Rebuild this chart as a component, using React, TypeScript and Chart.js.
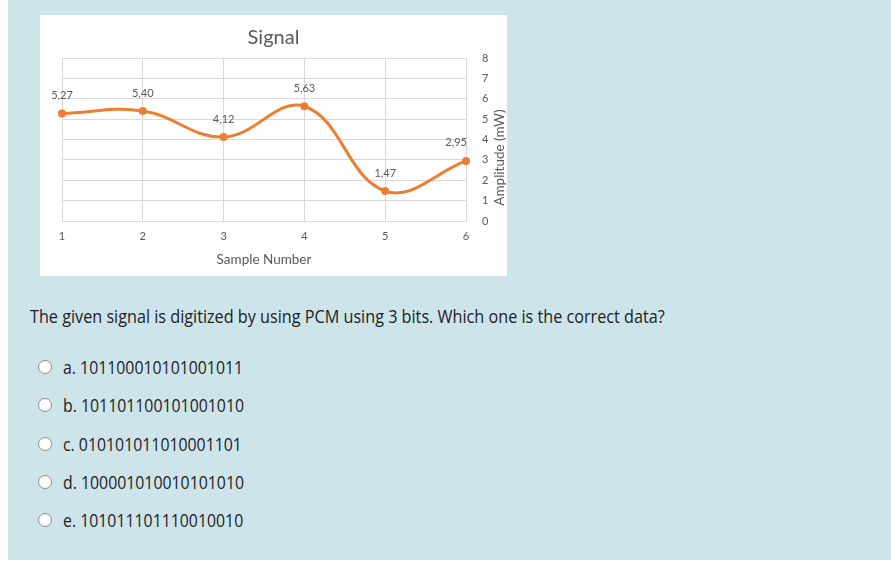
import React, { useEffect, useRef } from 'react';
import { Chart, registerables } from 'chart.js';

Chart.register(...registerables);

// sample numbers on the x axis
const samples = ['1', '2', '3', '4', '5', '6'];
// amplitude in mW
const amplitude = [5.27, 5.4, 4.12, 5.63, 1.47, 2.95];
const yTicks = [0, 1, 2, 3, 4, 5, 6, 7, 8];

const question = 'The given signal is digitized by using PCM using 3 bits. Which one is the correct data?';
const choices = [
  'a. 101100010101001011',
  'b. 101101100101001010',
  'c. 010101011010001101',
  'd. 100001010010101010',
  'e. 101011101110010010',
];

const TEXT = '#595959';
const ORANGE = '#ED7D31';
const FONT = 'Lato, "Open Sans", sans-serif';

// draws the value over each point (comma decimal like the excel original)
// and the right-hand axis title, which reads bottom to top here
const valueLabels = {
  id: 'valueLabels',
  afterDatasetsDraw(chart: any) {
    const { ctx, chartArea } = chart;
    const meta = chart.getDatasetMeta(0);
    ctx.save();
    ctx.font = '11px ' + FONT;
    ctx.fillStyle = TEXT;
    ctx.textBaseline = 'middle';
    meta.data.forEach((pt: any, i: number) => {
      const txt = amplitude[i].toFixed(2).replace('.', ',');
      const last = i === meta.data.length - 1;
      ctx.textAlign = last ? 'right' : 'center';
      ctx.fillText(txt, last ? pt.x + 1 : pt.x, pt.y - 18);
    });

    ctx.font = '13.5px ' + FONT;
    ctx.textAlign = 'center';
    ctx.translate(chart.width - 7, (chartArea.top + chartArea.bottom) / 2 + 18);
    ctx.rotate(-Math.PI / 2);
    ctx.fillText('Amplitude (mW)', 0, 0);
    ctx.restore();
  },
};

function SignalChart() {
  const canvasRef = useRef<HTMLCanvasElement>(null);
  const chartRef = useRef<Chart | null>(null);

  useEffect(() => {
    if (!canvasRef.current) return;
    if (chartRef.current) chartRef.current.destroy();

    chartRef.current = new Chart(canvasRef.current, {
      type: 'line',
      data: {
        labels: samples,
        datasets: [{
          data: amplitude,
          borderColor: ORANGE,
          backgroundColor: ORANGE,
          borderWidth: 3,
          pointRadius: 4,
          pointBorderWidth: 0,
          tension: 0.4,
        }],
      },
      options: {
        animation: false,
        responsive: true,
        maintainAspectRatio: false,
        layout: { padding: 0 },
        plugins: {
          legend: { display: false },
          tooltip: { enabled: false },
          title: {
            display: true,
            text: 'Signal',
            color: TEXT,
            font: { family: FONT, size: 20, weight: 'normal' },
            padding: { top: 11, bottom: 8 },
          },
        },
        scales: {
          x: {
            offset: false,
            afterFit: (axis: any) => { axis.height = 55; },
            grid: { color: '#d9d9d9', offset: false, drawTicks: false },
            border: { color: '#d9d9d9' },
            ticks: { color: TEXT, font: { family: FONT, size: 11 }, padding: 9, maxRotation: 0 },
            title: { display: true, text: 'Sample Number', color: TEXT, font: { family: FONT, size: 13.5 }, padding: { top: 8, bottom: 8 } },
          },
          y: {
            position: 'right',
            min: 0,
            max: 8,
            afterBuildTicks: (axis: any) => { axis.ticks = yTicks.map((v) => ({ value: v })); },
            afterFit: (axis: any) => { axis.width = 41; },
            grid: { color: '#d9d9d9', drawTicks: false },
            border: { color: '#d9d9d9' },
            ticks: { color: TEXT, font: { family: FONT, size: 11 }, padding: 16 },
          },
          // empty left gutter so the title stays centred on the whole box
          gutter: {
            type: 'linear',
            position: 'left',
            afterFit: (axis: any) => { axis.width = 22; },
            grid: { display: false },
            border: { display: false },
            ticks: { display: false },
          },
        },
      },
      plugins: [valueLabels],
    });

    return () => {
      if (chartRef.current) {
        chartRef.current.destroy();
        chartRef.current = null;
      }
    };
  }, []);

  return (
    <div style={{ position: 'absolute', left: 32, top: 15, width: 467, height: 261, background: '#fff' }}>
      <canvas ref={canvasRef}></canvas>
    </div>
  );
}

export default function App() {
  return (
    <div style={{ position: 'absolute', left: 8, top: 0, width: 883, height: 560, background: '#cde5ea', fontFamily: '"Open Sans", sans-serif', color: '#1d2125' }}>
      <SignalChart />
      <div style={{ position: 'absolute', left: 22, top: 304, fontSize: 18, whiteSpace: 'nowrap', transform: 'scaleX(0.9)', transformOrigin: 'left top' }}>
        {question}
      </div>
      {choices.map((c, i) => (
        <div key={c} style={{ position: 'absolute', left: 30, top: 355 + i * 38.3, display: 'flex', alignItems: 'center', whiteSpace: 'nowrap' }}>
          <span style={{ width: 12, height: 12, borderRadius: '50%', border: '1px solid #8a8d90', background: '#fff', display: 'inline-block', marginRight: 11 }}></span>
          <span style={{ fontSize: 18, transform: 'scaleX(0.88)', transformOrigin: 'left center', display: 'inline-block' }}>{c}</span>
        </div>
      ))}
    </div>
  );
}
